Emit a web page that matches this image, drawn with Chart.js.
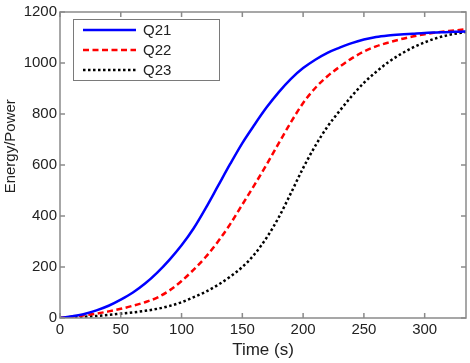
<!DOCTYPE html>
<html>
<head>
<meta charset="utf-8">
<script src="https://cdn.jsdelivr.net/npm/chart.js@4.4.0/dist/chart.umd.min.js"></script>
<style>
html, body { margin: 0; padding: 0; background: #fff; }
#wrap { width: 470px; height: 363px; }
</style>
</head>
<body>
<div id="wrap"><canvas id="myChart"></canvas></div>
<script>
const times = [0, 10, 20, 30, 40, 50, 60, 70, 80, 90, 100, 110, 120, 130, 140, 150, 160, 170,
    180, 190, 200, 210, 220, 230, 240, 250, 260, 270, 280, 290, 300, 310, 320, 330, 334];
const q21 = [0, 7, 16, 30, 48, 72, 100, 135, 178, 228, 285, 352, 432, 518, 604, 686, 758, 826,
    886, 938, 980, 1013, 1040, 1060, 1078, 1092, 1102, 1108, 1112, 1115, 1118, 1120, 1122, 1123, 1124];
const q22 = [0, 5, 11, 17, 26, 36, 48, 62, 80, 108, 145, 190, 240, 300, 368, 445, 522, 602,
    686, 768, 843, 902, 948, 985, 1018, 1045, 1065, 1080, 1093, 1104, 1113, 1120, 1126, 1130, 1132];
const q23 = [0, 2, 5, 8, 12, 17, 22, 28, 36, 47, 62, 82, 103, 130, 162, 200, 250, 315,
    395, 490, 588, 675, 750, 812, 870, 922, 965, 1003, 1034, 1060, 1081, 1098, 1110, 1119, 1122];
const seriesNames = ['Q21', 'Q22', 'Q23'];
const xTicks = [0, 50, 100, 150, 200, 250, 300];
const yTicks = [0, 200, 400, 600, 800, 1000, 1200];

const fontFamily = 'Arial, "Liberation Sans", Helvetica, sans-serif';
const axisGray = '#8a8a8a';
const textColor = '#222';

// matlab style box with inward ticks on all four sides
const matlabBox = {
    id: 'matlabBox',
    afterDatasetsDraw(chart) {
        const { ctx, chartArea: a, scales } = chart;
        ctx.save();
        ctx.strokeStyle = axisGray;
        ctx.lineWidth = 1.5;
        ctx.beginPath();
        xTicks.forEach(v => {
            const px = scales.x.getPixelForValue(v);
            ctx.moveTo(px, a.bottom); ctx.lineTo(px, a.bottom - 5);
            ctx.moveTo(px, a.top); ctx.lineTo(px, a.top + 5);
        });
        yTicks.forEach(v => {
            const py = scales.y.getPixelForValue(v);
            ctx.moveTo(a.left, py); ctx.lineTo(a.left + 5, py);
            ctx.moveTo(a.right, py); ctx.lineTo(a.right - 5, py);
        });
        ctx.stroke();
        ctx.strokeRect(a.left, a.top, a.right - a.left, a.bottom - a.top);

        // legend box in the upper left corner
        const bx = a.left + 13, by = a.top + 7, bw = 146, bh = 61;
        ctx.fillStyle = '#fff';
        ctx.fillRect(bx, by, bw, bh);
        ctx.strokeStyle = '#7a7a7a';
        ctx.lineWidth = 1;
        ctx.strokeRect(bx + 0.5, by + 0.5, bw, bh);
        ctx.font = '15px ' + fontFamily;
        ctx.textBaseline = 'middle';
        chart.data.datasets.forEach((ds, i) => {
            const y = by + 11 + i * 20;
            ctx.strokeStyle = ds.borderColor;
            ctx.lineWidth = ds.borderWidth;
            ctx.setLineDash(ds.borderDash || []);
            ctx.beginPath();
            ctx.moveTo(bx + 10, y); ctx.lineTo(bx + 63, y);
            ctx.stroke();
            ctx.setLineDash([]);
            ctx.fillStyle = textColor;
            ctx.fillText(ds.label, bx + 70, y + 1);
        });
        ctx.restore();
    }
};

function line(label, data, color, dash) {
    return {
        label: label,
        data: data.map((v, i) => ({ x: times[i], y: v })),
        borderColor: color,
        borderWidth: 2.5,
        borderDash: dash,
        borderCapStyle: 'butt',
        pointRadius: 0,
        fill: false,
        cubicInterpolationMode: 'monotone'
    };
}

const ctx = document.getElementById('myChart').getContext('2d');
new Chart(ctx, {
    type: 'line',
    data: {
        datasets: [
            line(seriesNames[0], q21, '#0000ff', []),
            line(seriesNames[1], q22, '#ff0000', [6, 3.5]),
            line(seriesNames[2], q23, '#000000', [2.5, 2.5])
        ]
    },
    options: {
        responsive: true,
        maintainAspectRatio: false,
        animation: false,
        layout: { padding: { top: 7, right: 4, left: 0, bottom: 0 } },
        plugins: { legend: { display: false }, tooltip: { enabled: false } },
        scales: {
            x: {
                type: 'linear',
                min: 0,
                max: 334,
                afterBuildTicks: s => { s.ticks = xTicks.map(v => ({ value: v })); },
                afterFit: s => { s.height = 45; },
                grid: { display: false, drawTicks: false },
                border: { display: false },
                ticks: {
                    padding: 3, color: textColor, font: { family: fontFamily, size: 15 },
                    callback: v => String(v)
                },
                title: {
                    display: true, text: 'Time (s)', color: textColor,
                    font: { family: fontFamily, size: 17 }, padding: { top: 0, bottom: 2 }
                }
            },
            y: {
                min: 0,
                max: 1200,
                afterBuildTicks: s => { s.ticks = yTicks.map(v => ({ value: v })); },
                afterFit: s => { s.width = 60; },
                grid: { display: false, drawTicks: false },
                border: { display: false },
                ticks: {
                    padding: 3, color: textColor, font: { family: fontFamily, size: 15 },
                    callback: v => String(v)
                },
                title: {
                    display: true, text: '\u00a0'.repeat(9) + 'Energy/Power', color: textColor,
                    font: { family: fontFamily, size: 15 }, padding: { top: 2, bottom: 0 }
                }
            }
        }
    },
    plugins: [matlabBox]
});
</script>
</body>
</html>
